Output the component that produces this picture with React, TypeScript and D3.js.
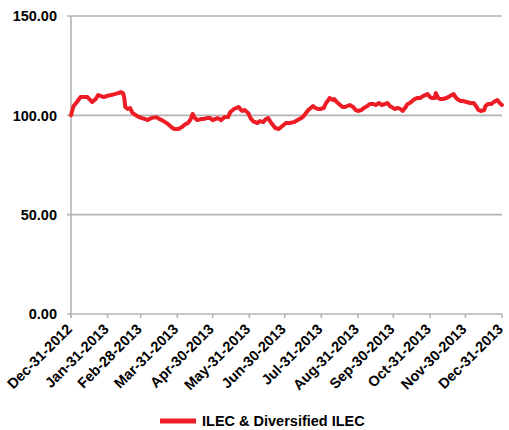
import React from "react";
import * as d3 from "d3";

// Index level, daily closes (estimated), rebased to 100 at Dec-31-2012
const dates: string[] = [
  "2012-12-31", "2013-01-02", "2013-01-05", "2013-01-08", "2013-01-11", "2013-01-14", "2013-01-18",
  "2013-01-21", "2013-01-23", "2013-01-28", "2013-01-30", "2013-02-03", "2013-02-06", "2013-02-09",
  "2013-02-11", "2013-02-13", "2013-02-14", "2013-02-15", "2013-02-17", "2013-02-19", "2013-02-21",
  "2013-02-25", "2013-03-01", "2013-03-04", "2013-03-06", "2013-03-09", "2013-03-13", "2013-03-16",
  "2013-03-18", "2013-03-22", "2013-03-24", "2013-03-27", "2013-03-29", "2013-04-01", "2013-04-04",
  "2013-04-07", "2013-04-09", "2013-04-11", "2013-04-13", "2013-04-15", "2013-04-17", "2013-04-20",
  "2013-04-22", "2013-04-25", "2013-04-28", "2013-04-30", "2013-05-04", "2013-05-07", "2013-05-10",
  "2013-05-13", "2013-05-15", "2013-05-18", "2013-05-20", "2013-05-22", "2013-05-24", "2013-05-25",
  "2013-05-27", "2013-05-30", "2013-06-01", "2013-06-03", "2013-06-05", "2013-06-07", "2013-06-09",
  "2013-06-12", "2013-06-14", "2013-06-16", "2013-06-18", "2013-06-20", "2013-06-22", "2013-06-25",
  "2013-06-27", "2013-07-01", "2013-07-04", "2013-07-08", "2013-07-11", "2013-07-14", "2013-07-16",
  "2013-07-18", "2013-07-20", "2013-07-24", "2013-07-26", "2013-07-28", "2013-07-30", "2013-08-02",
  "2013-08-04", "2013-08-06", "2013-08-07", "2013-08-10", "2013-08-11", "2013-08-13", "2013-08-16",
  "2013-08-18", "2013-08-20", "2013-08-22", "2013-08-24", "2013-08-27", "2013-08-29", "2013-08-31",
  "2013-09-03", "2013-09-05", "2013-09-08", "2013-09-10", "2013-09-13", "2013-09-15", "2013-09-18",
  "2013-09-20", "2013-09-23", "2013-09-25", "2013-09-27", "2013-09-30", "2013-10-01", "2013-10-04",
  "2013-10-06", "2013-10-08", "2013-10-11", "2013-10-12", "2013-10-14", "2013-10-17", "2013-10-18",
  "2013-10-20", "2013-10-23", "2013-10-25", "2013-10-29", "2013-10-31", "2013-11-02", "2013-11-04",
  "2013-11-05", "2013-11-07", "2013-11-09", "2013-11-11", "2013-11-14", "2013-11-17", "2013-11-20",
  "2013-11-21", "2013-11-23", "2013-11-26", "2013-11-28", "2013-12-01", "2013-12-04", "2013-12-07",
  "2013-12-09", "2013-12-11", "2013-12-13", "2013-12-16", "2013-12-17", "2013-12-19", "2013-12-22",
  "2013-12-24", "2013-12-27", "2013-12-29", "2013-12-31",
];

const values: number[] = [
  100.0, 104.5, 106.7, 109.2, 109.2, 109.2, 106.7,
  108.2, 110.2, 109.2, 109.7, 110.2, 110.7, 111.2,
  111.7, 111.2, 109.2, 104.2, 103.2, 103.7, 101.2,
  99.6, 98.6, 98.1, 97.6, 98.6, 99.1, 98.1,
  97.6, 96.1, 95.1, 93.6, 93.1, 93.1, 94.1,
  95.6, 96.1, 97.6, 100.7, 98.6, 97.6, 98.1,
  98.1, 98.6, 98.6, 97.6, 98.6, 97.6, 99.1,
  99.1, 101.7, 103.2, 103.7, 104.2, 102.7, 102.2,
  102.7, 101.2, 98.6, 97.1, 96.6, 96.1, 97.1,
  96.6, 98.1, 98.6, 96.6, 95.1, 93.6, 93.1,
  94.1, 96.1, 96.1, 96.6, 97.6, 98.6, 99.6,
  101.2, 102.7, 104.7, 103.7, 103.2, 103.2, 103.7,
  106.2, 107.7, 108.7, 107.7, 108.2, 106.7, 105.2,
  104.2, 104.2, 104.7, 105.2, 104.2, 102.7, 102.2,
  102.7, 103.7, 104.7, 105.7, 105.7, 105.2, 106.2,
  105.2, 105.7, 106.2, 104.7, 103.7, 103.2, 103.7,
  103.2, 102.2, 104.7, 105.7, 106.2, 107.7, 108.2,
  108.7, 108.7, 109.7, 110.7, 109.2, 108.7, 108.7,
  111.2, 108.7, 108.2, 108.2, 108.7, 109.7, 110.7,
  109.7, 108.2, 107.2, 107.2, 106.7, 106.2, 106.2,
  104.7, 102.7, 102.2, 102.7, 104.7, 105.7, 105.7,
  106.7, 107.7, 106.2, 105.2,
];

const xTickDates: string[] = [
  "2012-12-31", "2013-01-31", "2013-02-28", "2013-03-31", "2013-04-30", "2013-05-31", "2013-06-30",
  "2013-07-31", "2013-08-31", "2013-09-30", "2013-10-31", "2013-11-30", "2013-12-31",
];
const yTicks: number[] = [0, 50, 100, 150];
const seriesName = "ILEC & Diversified ILEC";

const W = 509;
const H = 430;
const margin = { left: 71, right: 7, top: 16, bottom: 116 };
const FONT = "'Liberation Sans', Arial, sans-serif";
const RED = "#ee1c25";
const GRID = "#b4b4b4";

export default function App() {
  const parse = d3.utcParse("%Y-%m-%d");
  const fmtTick = d3.utcFormat("%b-%d-%Y");
  const x = d3
    .scaleUtc()
    .domain([parse("2012-12-31")!, parse("2013-12-31")!])
    .range([margin.left, W - margin.right]);
  const y = d3.scaleLinear().domain([0, 150]).range([H - margin.bottom, margin.top]);

  const points = dates.map((d, i) => ({ date: parse(d)!, value: values[i] }));
  const line = d3
    .line<{ date: Date; value: number }>()
    .x((d) => x(d.date))
    .y((d) => y(d.value));

  const y0 = y(0);

  return (
    <svg
      width={W}
      height={H}
      style={{ position: "absolute", left: 0, top: 0, display: "block", background: "#fff" }}
      fontFamily={FONT}
    >
      {/* horizontal gridlines with small left ticks */}
      {yTicks.map((t) => (
        <g key={t}>
          <line x1={margin.left - 4} x2={W - margin.right} y1={y(t)} y2={y(t)} stroke={GRID} strokeWidth={1.6} />
          <text
            x={57}
            y={y(t)}
            dy="0.36em"
            textAnchor="end"
            fontSize={14.5}
            fontWeight="bold"
            fill="#000"
          >
            {t.toFixed(2)}
          </text>
        </g>
      ))}
      {/* y axis */}
      <line x1={margin.left} x2={margin.left} y1={margin.top} y2={y0 + 4} stroke={GRID} strokeWidth={1.6} />
      {/* x ticks and rotated labels */}
      {xTickDates.map((d) => {
        const px = x(parse(d)!);
        return (
          <g key={d}>
            <line x1={px} x2={px} y1={y0} y2={y0 + 4} stroke={GRID} strokeWidth={1.6} />
            <text
              transform={`translate(${px + 2},${y0 + 16}) rotate(-45)`}
              textAnchor="end"
              fontSize={14.5}
              fontWeight="bold"
              fill="#000"
            >
              {fmtTick(parse(d)!)}
            </text>
          </g>
        );
      })}
      {/* series */}
      <path d={line(points) ?? ""} fill="none" stroke={RED} strokeWidth={4} strokeLinejoin="round" strokeLinecap="round" />
      {/* legend */}
      <line x1={160} x2={196} y1={421} y2={421} stroke={RED} strokeWidth={5} />
      <text x={202} y={421} dy="0.36em" fontSize={14.5} fontWeight="bold" fill="#000">
        {seriesName}
      </text>
    </svg>
  );
}
